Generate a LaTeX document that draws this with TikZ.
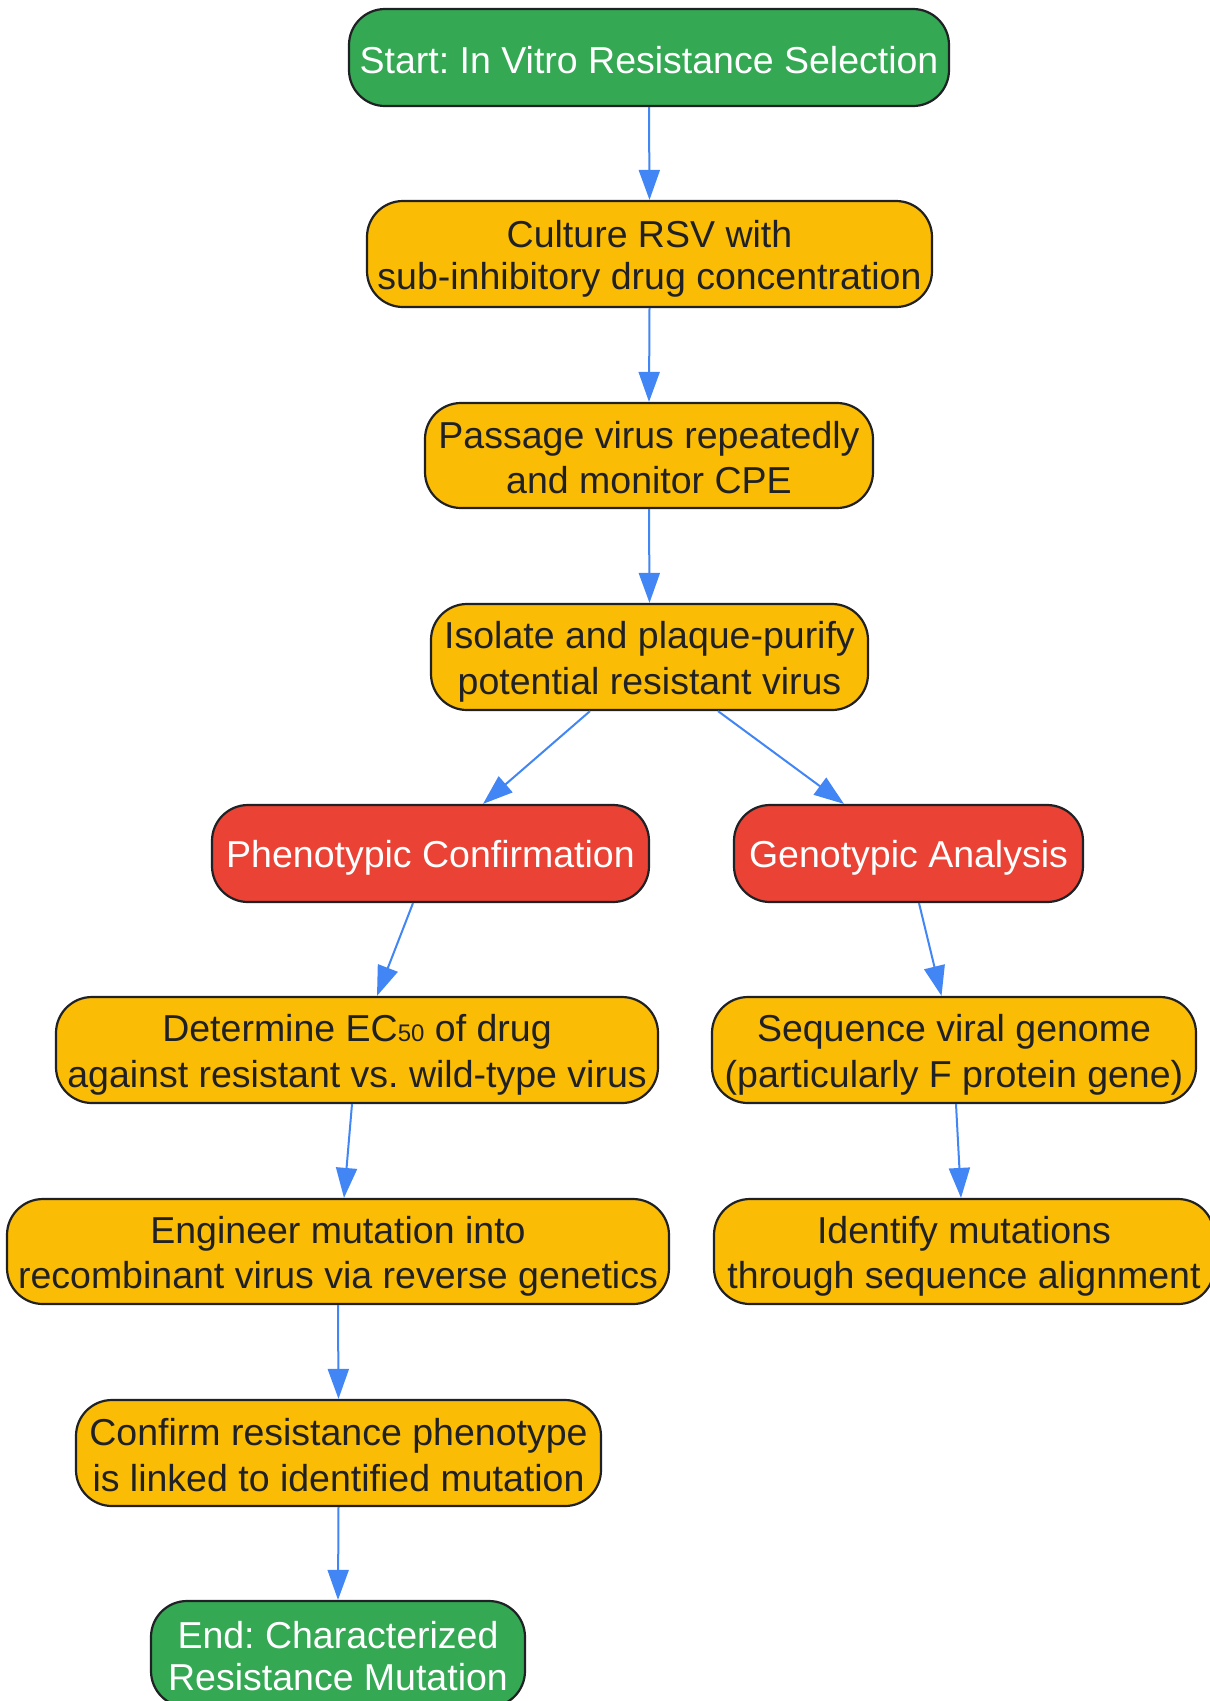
\documentclass[tikz,border=0pt]{standalone}
\usepackage{fontspec}
\setmainfont{Liberation Sans}
\usetikzlibrary{arrows.meta}
\frenchspacing
\definecolor{gstart}{HTML}{34A853}
\definecolor{gstep}{HTML}{FBBC05}
\definecolor{gred}{HTML}{EA4335}
\definecolor{gblue}{HTML}{4285F4}
\definecolor{gdark}{HTML}{202124}
\newcommand{\lst}{\rule[-5.5pt]{0pt}{42pt}}
\tikzset{
  box/.style={draw=gdark, line width=2.2pt, rounded corners=36pt, inner sep=0pt,
    align=center, font=\fontsize{37.5}{42}\selectfont\frenchspacing},
  greenbox/.style={box, fill=gstart, text=white},
  stepbox/.style={box, fill=gstep, text=gdark},
  redbox/.style={box, fill=gred, text=white},
  conn/.style={draw=gblue, line width=2pt, -{Triangle[length=30pt,width=21pt]}}
}
\begin{document}
\begin{tikzpicture}[x=1pt,y=-1pt]
\useasboundingbox (0,0) rectangle (1210,1701);
\node[greenbox, minimum width=600pt, minimum height=97pt] (start) at (649,57.5) {\lst Start: In Vitro Resistance Selection};
\node[stepbox, minimum width=565pt, minimum height=106pt] (cult) at (649.5,254) {\lst Culture RSV with\\\lst sub-inhibitory drug concentration};
\node[stepbox, minimum width=448pt, minimum height=105pt] (pass) at (649,455.5) {\lst Passage virus repeatedly\\\lst and monitor CPE};
\node[stepbox, minimum width=437pt, minimum height=106pt] (iso) at (649.5,657) {\lst Isolate and plaque-purify\\\lst potential resistant virus};
\node[redbox, minimum width=437pt, minimum height=97pt] (phen) at (430.5,853.5) {\lst Phenotypic Confirmation};
\node[redbox, minimum width=349pt, minimum height=97pt] (geno) at (908.5,853.5) {\lst Genotypic Analysis};
\node[stepbox, minimum width=602pt, minimum height=106pt] (det) at (357,1050) {\lst Determine EC{\fontsize{24}{24}\selectfont 50} of drug\\\lst against resistant vs. wild-type virus};
\node[stepbox, minimum width=484pt, minimum height=106pt] (seq) at (954,1050) {\lst Sequence viral genome\\\lst (particularly F protein gene)};
\node[stepbox, minimum width=662pt, minimum height=105pt] (eng) at (338,1251.5) {\lst Engineer mutation into\\\lst recombinant virus via reverse genetics};
\node[stepbox, minimum width=500pt, minimum height=105pt] (iden) at (964,1251.5) {\lst Identify mutations\\\lst through sequence alignment};
\node[stepbox, minimum width=525pt, minimum height=106pt] (conf) at (338.5,1453) {\lst Confirm resistance phenotype\\\lst is linked to identified mutation};
\node[greenbox, minimum width=374pt, minimum height=106pt] (end) at (338,1654) {\lst End: Characterized\\\lst Resistance Mutation};
\draw[conn] (start.south) -- (cult.north);
\draw[conn] (cult.south) -- (pass.north);
\draw[conn] (pass.south) -- (iso.north);
\draw[conn] ([xshift=-59.5pt]iso.south) -- ([xshift=52.5pt]phen.north);
\draw[conn] ([xshift=68.5pt]iso.south) -- ([xshift=-64.5pt]geno.north);
\draw[conn] ([xshift=-17.5pt]phen.south) -- ([xshift=20pt]det.north);
\draw[conn] ([xshift=10.5pt]geno.south) -- ([xshift=-12.5pt]seq.north);
\draw[conn] ([xshift=-5pt]det.south) -- ([xshift=6pt]eng.north);
\draw[conn] ([xshift=2pt]seq.south) -- ([xshift=-3pt]iden.north);
\draw[conn] (eng.south) -- (conf.north);
\draw[conn] (conf.south) -- (end.north);
\end{tikzpicture}
\end{document}
